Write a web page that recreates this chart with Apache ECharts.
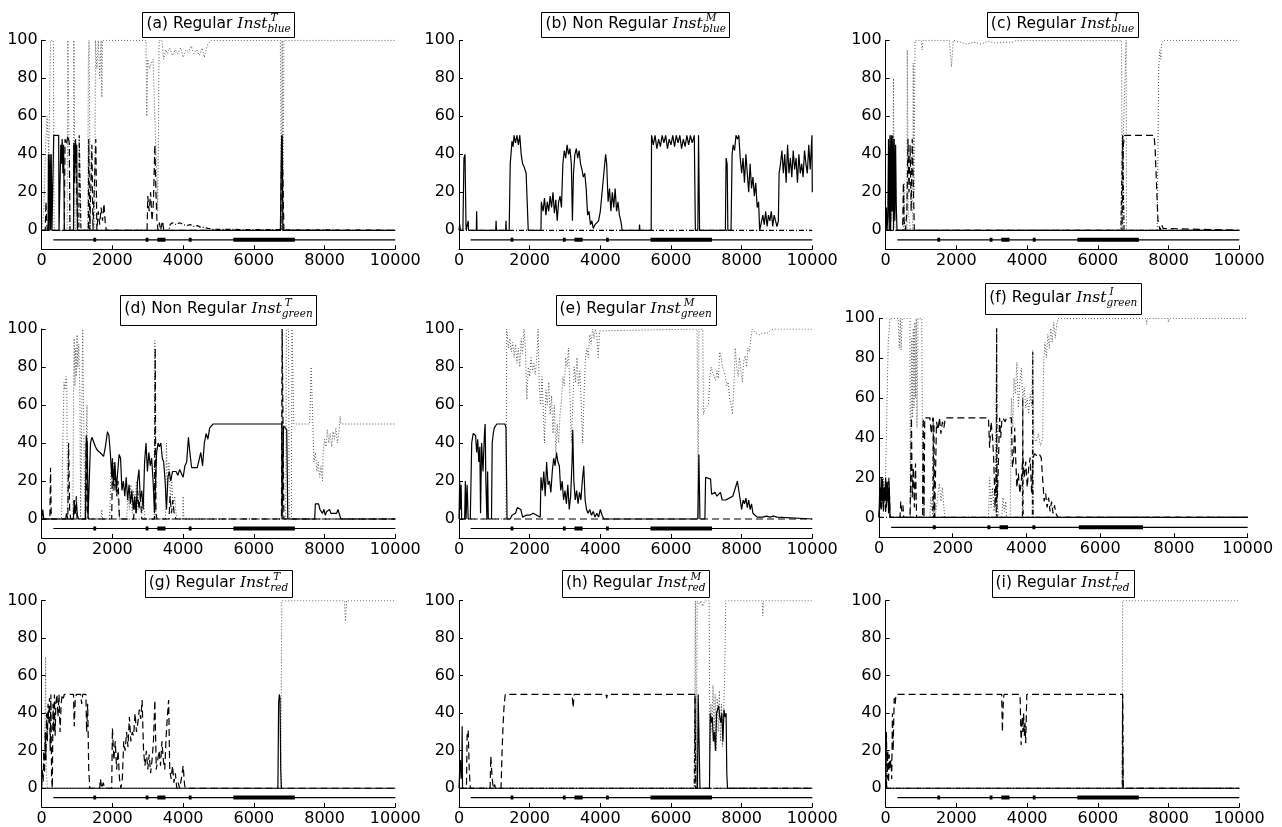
<!DOCTYPE html>
<html><head><meta charset="utf-8">
<script src="https://cdn.jsdelivr.net/npm/echarts@6/dist/echarts.min.js"></script>
<style>html,body{margin:0;padding:0;background:#fff}#c{width:1282px;height:827px}</style>
</head><body><div id="c"></div>
<script>
// ---------- tick labels ----------
const yTicks=[0,20,40,60,80,100];
const xTicks=[0,2000,4000,6000,8000,10000];
// ---------- bottom strip (same in every panel) ----------
const stripBase=[[330,-5],[10000,-5]];
const stripThick=[[1460,1540],[2940,3020],[3270,3500],[4160,4240],[5420,7160]];
// ---------- titles ----------
const titleMain=['(a) Regular ','(b) Non Regular ','(c) Regular ','(d) Non Regular ','(e) Regular ','(f) Regular ','(g) Regular ','(h) Regular ','(i) Regular '];
const titleSup=['T','M','I','T','M','I','T','M','I'];
const titleSub=['blue','blue','blue','green','green','green','red','red','red'];

// ---------- (a) ----------
const a_solid=[[0,0],[180,0],[190,40],[210,0],[230,40],[250,0],[270,40],[290,0],[330,0],[340,50],[480,50],[490,0],[530,0],[540,45],[560,35],[580,48],[600,30],[620,45],[640,0],[900,0],[910,45],[930,30],[950,47],[970,35],[990,45],[1010,0],[6750,0],[6780,45],[6800,50],[6820,0],[10000,0]];
const a_dashed=[[0,0],[100,0],[120,15],[140,5],[160,0],[640,0],[660,48],[700,45],[740,50],[780,46],[800,0],[900,0],[910,47],[930,25],[960,48],[990,20],[1020,0],[1320,0],[1330,48],[1360,0],[1400,0],[1420,45],[1450,0],[1500,0],[1530,48],[1560,0],[1600,10],[1640,3],[1680,12],[1720,5],[1760,14],[1800,3],[1830,0],[2980,0],[3000,18],[3040,10],[3080,20],[3120,5],[3160,15],[3200,45],[3230,20],[3260,5],[3290,0],[3330,4],[3360,0],[3420,5],[3450,0],[6760,0],[6790,50],[6820,30],[6850,0],[10000,0]];
const a_dotted=[[0,0],[60,10],[100,40],[150,60],[200,40],[250,100],[330,100],[350,0],[720,0],[740,100],[780,100],[800,0],[900,0],[910,100],[940,100],[950,0],[1300,0],[1320,90],[1340,100],[1380,0],[1500,0],[1520,100],[1560,85],[1600,100],[1640,80],[1680,100],[1700,70],[1720,100],[1800,100],[2600,100],[2650,99],[2700,100],[2950,100],[2970,60],[3000,90],[3050,85],[3100,88],[3150,90],[3200,60],[3250,30],[3280,10],[3300,50],[3320,100],[3400,100],[3450,90],[3500,95],[3560,93],[3620,96],[3700,92],[3780,95],[3850,93],[3930,96],[4000,91],[4080,95],[4150,94],[4230,97],[4300,93],[4380,95],[4460,92],[4540,96],[4600,91],[4650,95],[4700,98],[4800,100],[6750,100],[6780,0],[6800,100],[6820,0],[6850,100],[10000,100]];
const a_dashdot=[[0,0],[1050,0],[1060,50],[1100,50],[1110,0],[3600,0],[3630,3],[3700,4],[3800,3],[3900,4],[4000,3],[4100,2.5],[4200,3],[4300,2],[4400,2.5],[4500,1.5],[4600,1.5],[4700,1],[4850,0.5],[4860,0],[10000,0]];

// ---------- (b) ----------
const b_solid=[[0,0],[20,3],[40,0],[110,0],[140,38],[170,40],[200,0],[250,0],[260,5],[270,0],[490,0],[500,10],[510,0],[1040,0],[1050,5],[1060,0],[1320,0],[1330,5],[1340,0],[1420,0],[1450,35],[1480,42],[1500,47],[1530,44],[1560,50],[1600,46],[1640,50],[1680,45],[1720,50],[1760,40],[1800,35],[1850,33],[1900,30],[1930,15],[1960,0],[2320,0],[2330,15],[2380,10],[2420,17],[2460,8],[2500,15],[2540,10],[2580,18],[2620,12],[2660,20],[2700,9],[2740,16],[2780,5],[2820,15],[2860,18],[2900,12],[2940,35],[2980,42],[3020,38],[3060,45],[3100,40],[3140,43],[3180,35],[3210,5],[3240,30],[3280,40],[3320,43],[3360,38],[3400,42],[3440,35],[3480,32],[3520,28],[3560,30],[3600,22],[3640,8],[3680,10],[3720,3],[3760,5],[3800,1],[3850,3],[3900,2],[3950,5],[4000,10],[4050,20],[4100,30],[4150,40],[4180,35],[4220,15],[4260,22],[4300,10],[4340,20],[4380,12],[4420,22],[4460,10],[4500,15],[4540,8],[4580,5],[4620,0],[5100,0],[5110,3],[5120,0],[5440,0],[5450,50],[5500,45],[5550,50],[5600,43],[5650,48],[5700,44],[5750,50],[5800,46],[5850,50],[5900,43],[5950,48],[6000,45],[6050,50],[6100,44],[6150,50],[6200,46],[6250,50],[6300,43],[6350,48],[6400,44],[6450,50],[6500,45],[6550,50],[6600,46],[6660,50],[6690,0],[6760,0],[6780,50],[6810,0],[7540,0],[7560,38],[7590,35],[7610,0],[7700,0],[7730,40],[7760,45],[7800,42],[7840,50],[7880,48],[7920,50],[7960,38],[8000,30],[8040,38],[8080,25],[8120,40],[8160,30],[8200,20],[8240,35],[8280,22],[8320,28],[8360,18],[8400,25],[8440,12],[8480,15],[8510,0],[8560,0],[8600,8],[8640,3],[8680,10],[8720,2],[8760,8],[8800,5],[8840,10],[8880,2],[8920,8],[8960,5],[9000,2],[9040,5],[9060,30],[9100,35],[9140,42],[9180,30],[9220,40],[9260,25],[9300,45],[9340,30],[9380,38],[9420,28],[9460,42],[9500,32],[9540,38],[9580,25],[9620,40],[9660,30],[9700,35],[9740,28],[9780,42],[9820,35],[9860,30],[9900,45],[9940,32],[9990,50],[10000,20]];
const b_dashed=[];
const b_dotted=[];
const b_dashdot=[[0,0],[10000,0]];

// ---------- (c) ----------
const c_solid=[[0,0],[20,12],[40,0],[60,8],[80,48],[100,0],[120,50],[140,0],[160,50],[180,10],[200,50],[220,0],[240,48],[260,5],[280,45],[300,12],[320,0],[10000,0]];
const c_dashed=[[0,0],[480,0],[500,25],[520,5],[560,0],[600,10],[630,48],[660,20],[690,45],[720,10],[750,48],[780,25],[810,0],[6680,0],[6720,45],[6760,50],[7590,50],[7620,43],[7650,28],[7680,28],[7700,5],[7760,0],[7800,3],[7850,1],[7900,0],[10000,0]];
const c_dotted=[[0,0],[100,0],[130,15],[160,5],[200,18],[220,80],[240,10],[270,0],[500,0],[520,25],[540,0],[600,0],[610,95],[640,10],[700,0],[760,0],[780,88],[800,20],[830,100],[1000,100],[1030,95],[1060,100],[1800,100],[1860,86],[1910,100],[2300,98],[2500,99],[2700,98],[2900,99.5],[3100,98.5],[3300,99],[3600,99],[3700,100],[6670,100],[6690,0],[6720,50],[6800,100],[6810,0],[7680,0],[7720,85],[7750,95],[7780,90],[7800,98],[7850,100],[10000,100]];
const c_dashdot=[[0,0],[6650,0],[6700,50],[6740,0],[10000,0]];

// ---------- (d) ----------
const d_solid=[[0,0],[30,5],[60,0],[680,0],[700,3],[740,0],[900,0],[920,10],[950,3],[980,8],[1010,2],[1040,0],[1240,0],[1260,44],[1290,40],[1310,0],[1340,0],[1380,40],[1420,43],[1470,42],[1520,38],[1580,36],[1650,35],[1700,34],[1750,33],[1800,38],[1860,46],[1900,44],[1940,35],[1980,22],[2000,32],[2030,18],[2070,30],[2110,15],[2150,25],[2190,34],[2230,32],[2270,15],[2310,20],[2350,12],[2390,22],[2430,10],[2470,18],[2510,8],[2550,15],[2590,5],[2630,12],[2670,3],[2710,20],[2750,26],[2790,10],[2830,15],[2870,5],[2910,30],[2950,40],[2990,25],[3030,35],[3070,28],[3110,32],[3150,20],[3190,3],[3220,2],[3250,35],[3290,40],[3330,38],[3370,40],[3410,32],[3450,30],[3490,20],[3530,5],[3570,22],[3610,25],[3650,20],[3700,25],[3750,24],[3800,25],[3850,23],[3900,26],[3950,25],[4000,22],[4050,28],[4100,30],[4150,43],[4190,35],[4240,27],[4300,27],[4350,26],[4400,27],[4450,28],[4500,35],[4550,28],[4600,40],[4650,45],[4700,42],[4750,48],[4800,49],[4850,50],[6790,50],[6800,0],[6820,0],[6840,49],[6880,48],[6930,47],[6960,0],[7720,0],[7740,8],[7830,8],[7870,5],[7900,6],[7940,3],[7980,5],[8020,2],[8060,4],[8100,3],[8140,5],[8180,3],[8220,4],[8260,3],[8300,4],[8340,3],[8380,5],[8420,4],[8460,0],[10000,0]];
const d_dashed=[[0,0],[230,0],[250,27],[270,0],[740,0],[760,40],[790,5],[820,0],[900,0],[920,10],[950,2],[980,12],[1000,0],[1240,0],[1260,40],[1290,5],[1330,0],[1980,0],[2000,30],[2040,15],[2080,25],[2120,12],[2160,20],[2200,0],[2600,0],[2630,10],[2670,3],[2710,15],[2750,5],[2790,12],[2830,0],[3190,0],[3210,90],[3230,3],[3260,0],[3600,0],[3630,12],[3670,3],[3710,10],[3750,2],[3800,0],[6780,0],[6800,100],[6830,100],[6850,0],[10000,0]];
const d_dotted=[[0,0],[560,0],[600,40],[630,72],[660,68],[690,75],[710,70],[730,0],[880,0],[900,65],[920,95],[940,70],[960,90],[980,75],[1000,97],[1020,80],[1050,92],[1080,65],[1100,0],[1140,0],[1160,100],[1200,100],[1220,0],[1260,0],[1280,60],[1310,0],[1680,0],[1700,5],[1720,0],[1920,0],[1960,25],[2000,15],[2040,30],[2080,18],[2120,22],[2160,10],[2200,0],[2400,0],[2440,12],[2480,5],[2520,18],[2560,3],[2600,15],[2640,8],[2680,20],[2720,5],[2760,15],[2800,10],[2840,3],[2880,12],[2920,0],[3180,0],[3200,94],[3230,0],[3500,0],[3530,40],[3560,15],[3600,30],[3640,10],[3680,20],[3720,5],[3760,12],[3800,3],[3840,0],[3990,0],[4000,12],[4020,0],[6780,0],[6800,100],[6830,0],[6900,0],[6920,100],[6980,100],[7000,0],[7060,0],[7080,100],[7110,100],[7130,50],[7580,50],[7620,80],[7660,80],[7700,30],[7740,35],[7780,25],[7820,30],[7860,22],[7900,28],[7940,20],[7960,35],[8000,42],[8040,38],[8080,47],[8120,40],[8160,45],[8200,38],[8240,46],[8280,42],[8320,48],[8360,40],[8400,45],[8440,54],[8460,50],[10000,50]];
const d_dashdot=[[0,0],[10000,0]];

// ---------- (e) ----------
const e_solid=[[0,0],[20,20],[40,5],[60,18],[75,0],[160,0],[180,20],[200,0],[230,18],[260,0],[320,0],[360,40],[400,45],[470,44],[500,35],[530,42],[560,30],[590,38],[610,3],[640,40],[680,25],[720,45],[740,50],[760,20],[790,0],[810,25],[830,0],[920,0],[940,40],[970,45],[1000,48],[1040,47],[1070,50],[1300,50],[1330,48],[1360,0],[1450,0],[1500,2],[1550,1],[1600,3],[1650,6],[1700,7],[1750,5],[1800,1],[1900,2],[2000,2],[2100,3],[2200,2],[2300,1],[2320,22],[2360,15],[2400,25],[2440,12],[2480,30],[2520,18],[2560,20],[2600,14],[2640,25],[2680,32],[2720,28],[2760,35],[2800,30],[2840,28],[2880,15],[2920,20],[2960,10],[3000,15],[3040,8],[3080,18],[3120,5],[3160,12],[3200,30],[3220,47],[3250,20],[3290,10],[3330,15],[3370,8],[3410,14],[3450,10],[3490,20],[3530,28],[3570,10],[3610,5],[3650,3],[3700,5],[3750,2],[3800,4],[3850,1],[3900,3],[3950,1],[4000,5],[4050,2],[4100,0],[6760,0],[6790,34],[6820,0],[6960,0],[6980,22],[7120,21],[7150,13],[7200,12],[7250,14],[7300,12],[7350,13],[7400,14],[7450,10],[7500,9],[7550,10],[7600,9],[7650,11],[7700,10],[7750,12],[7800,15],[7850,18],[7880,20],[7920,15],[7960,10],[8000,5],[8040,10],[8080,8],[8120,11],[8160,6],[8200,10],[8240,5],[8280,8],[8320,3],[8380,2],[8440,1],[8500,1],[8600,1],[8700,1.5],[8800,1],[8900,1.5],[9000,1],[9040,0],[10000,0]];
const e_dashed=[[0,0],[10000,0]];
const e_dotted=[[0,0],[1330,0],[1350,100],[1400,90],[1440,95],[1480,88],[1520,93],[1560,85],[1600,92],[1640,82],[1680,90],[1720,80],[1760,95],[1800,87],[1840,100],[1880,90],[1920,63],[1960,80],[2000,75],[2040,85],[2080,78],[2120,82],[2160,76],[2200,85],[2240,100],[2270,70],[2310,60],[2350,75],[2390,55],[2420,40],[2460,68],[2500,60],[2540,72],[2580,55],[2620,65],[2660,45],[2700,60],[2740,35],[2780,50],[2820,40],[2860,55],[2900,62],[2940,75],[2980,70],[3020,85],[3060,80],[3100,90],[3140,65],[3180,40],[3220,60],[3260,80],[3300,72],[3340,85],[3380,70],[3420,78],[3460,60],[3500,40],[3540,65],[3580,85],[3620,90],[3660,85],[3700,97],[3740,92],[3780,100],[3820,95],[3860,100],[3900,97],[3940,85],[3980,99],[4020,100],[6740,100],[6770,0],[6790,100],[6900,100],[6920,55],[6960,58],[7000,57],[7060,60],[7100,75],[7140,80],[7180,77],[7220,75],[7260,73],[7300,78],[7340,74],[7380,88],[7420,85],[7460,80],[7500,78],[7540,75],[7580,70],[7620,72],[7660,63],[7700,60],[7740,55],[7780,70],[7820,90],[7860,80],[7900,75],[7940,85],[7980,78],[8020,72],[8060,83],[8100,86],[8140,80],[8180,90],[8220,88],[8260,95],[8300,100],[8340,99],[8400,98],[8500,97],[8600,98],[8700,97.5],[8800,99],[8900,100],[10000,100]];
const e_dashdot=[];

// ---------- (f) ----------
const f_solid=[[0,0],[20,15],[40,5],[60,20],[80,8],[100,18],[120,3],[140,15],[160,10],[180,20],[200,5],[220,12],[240,18],[260,2],[280,15],[300,0],[10000,0]];
const f_dashed=[[0,0],[30,12],[60,3],[90,20],[120,5],[150,15],[180,2],[210,18],[240,8],[270,20],[300,0],[570,0],[590,8],[620,3],[650,6],[670,0],[840,0],[860,20],[880,50],[900,10],[930,25],[960,5],[990,27],[1020,0],[1180,0],[1200,50],[1220,0],[1240,50],[1380,50],[1420,42],[1460,50],[1490,46],[1510,0],[1540,0],[1560,48],[1600,44],[1640,50],[1680,42],[1720,48],[1760,45],[1800,50],[2970,50],[3000,35],[3040,48],[3080,40],[3110,30],[3150,5],[3180,25],[3210,10],[3240,28],[3270,50],[3300,40],[3330,48],[3360,50],[3420,48],[3460,50],[3590,50],[3620,25],[3650,30],[3680,45],[3710,28],[3740,15],[3780,22],[3820,12],[3860,18],[3900,30],[3940,20],[3980,28],[4020,15],[4060,25],[4100,30],[4140,12],[4180,30],[4220,32],[4280,31],[4340,32],[4400,30],[4450,31],[4480,8],[4520,12],[4560,5],[4600,10],[4640,3],[4680,8],[4720,2],[4760,6],[4800,2],[4850,0],[7240,0],[7260,1],[7280,0],[10000,0]];
const f_dotted=[[0,0],[40,15],[80,5],[120,20],[160,8],[200,40],[230,70],[250,88],[300,100],[520,100],[550,85],[580,100],[600,84],[630,100],[660,100],[840,100],[850,0],[880,0],[890,90],[910,50],[930,95],[950,55],[970,98],[990,60],[1010,100],[1030,45],[1060,100],[1160,100],[1190,0],[1380,0],[1400,10],[1440,3],[1480,8],[1520,0],[1560,5],[1600,12],[1640,17],[1680,8],[1720,15],[1760,5],[1790,0],[2970,0],[3000,20],[3040,5],[3080,15],[3120,3],[3160,12],[3190,95],[3220,5],[3260,0],[3330,0],[3360,10],[3400,3],[3440,8],[3460,0],[3560,0],[3590,60],[3630,45],[3660,70],[3700,62],[3740,78],[3780,55],[3820,68],[3860,75],[3900,60],[3940,65],[3980,55],[4020,60],[4060,52],[4100,62],[4140,56],[4170,84],[4200,40],[4260,38],[4320,42],[4380,36],[4440,40],[4460,75],[4500,88],[4540,80],[4580,92],[4620,85],[4660,95],[4700,88],[4740,98],[4780,90],[4820,97],[4860,100],[7240,100],[7260,97],[7280,100],[7830,100],[7850,98],[7870,100],[10000,100]];
const f_dashdot=[[0,0],[1460,0],[1470,50],[1490,0],[3180,0],[3190,95],[3200,0],[3890,0],[3900,60],[3910,0],[4160,0],[4170,83],[4180,0],[10000,0]];

// ---------- (g) ----------
const g_solid=[[0,0],[6680,0],[6700,45],[6720,50],[6740,48],[6760,10],[6780,0],[10000,0]];
const g_dashed=[[0,0],[20,10],[40,3],[60,20],[80,8],[100,30],[120,15],[140,40],[160,25],[180,45],[200,35],[220,48],[240,20],[260,50],[280,5],[300,0],[320,45],[340,30],[360,50],[380,28],[400,45],[430,50],[460,38],[490,50],[520,30],[550,45],[580,50],[610,48],[640,50],[900,50],[920,33],[950,48],[980,50],[1100,50],[1130,45],[1160,50],[1250,50],[1270,30],[1300,45],[1330,10],[1360,0],[1640,0],[1660,5],[1700,0],[1740,3],[1780,0],[1980,0],[2000,32],[2040,15],[2080,25],[2120,10],[2160,20],[2200,5],[2240,0],[2280,5],[2320,25],[2360,20],[2400,30],[2440,22],[2480,38],[2520,25],[2560,30],[2600,28],[2640,40],[2680,30],[2720,35],[2760,42],[2800,37],[2840,47],[2880,20],[2920,12],[2960,20],[3000,10],[3040,18],[3080,8],[3120,15],[3160,25],[3200,47],[3240,10],[3280,15],[3320,20],[3360,12],[3400,25],[3440,15],[3480,10],[3520,28],[3560,40],[3590,47],[3620,10],[3660,5],[3700,12],[3740,3],[3780,8],[3820,0],[3860,3],[3900,0],[3950,5],[4000,12],[4040,2],[4060,0],[10000,0]];
const g_dotted=[[0,0],[40,10],[80,20],[100,45],[110,70],[130,10],[160,0],[6760,0],[6790,100],[8560,100],[8590,89],[8620,100],[10000,100]];
const g_dashdot=[];

// ---------- (h) ----------
const h_solid=[[0,0],[20,10],[40,15],[60,5],[80,14],[90,33],[100,0],[6750,0],[6770,50],[6800,50],[6820,0],[7090,0],[7110,40],[7140,35],[7170,38],[7200,25],[7230,30],[7260,20],[7290,40],[7320,42],[7350,44],[7380,38],[7410,35],[7440,40],[7470,25],[7500,42],[7530,38],[7560,40],[7580,8],[7600,0],[10000,0]];
const h_dashed=[[0,0],[210,0],[230,28],[260,31],[290,10],[320,0],[880,0],[900,17],[940,5],[970,0],[1010,2],[1030,0],[1190,0],[1220,20],[1250,35],[1280,45],[1310,50],[3200,50],[3230,43],[3260,50],[4160,50],[4180,48],[4200,50],[6680,50],[6700,0],[10000,0]];
const h_dotted=[[0,0],[6660,0],[6690,100],[6720,0],[6740,100],[6800,98],[6850,100],[6900,97],[6950,100],[7080,100],[7100,20],[7130,45],[7160,30],[7190,55],[7220,25],[7250,50],[7280,20],[7310,48],[7340,30],[7370,52],[7400,25],[7430,45],[7460,22],[7490,40],[7520,60],[7550,100],[8580,100],[8600,92],[8620,100],[10000,100]];
const h_dashdot=[[0,0],[6660,0],[6680,50],[6700,0],[10000,0]];

// ---------- (i) ----------
const i_solid=[[0,0],[10,5],[30,0],[10000,0]];
const i_dashed=[[0,0],[20,30],[40,5],[60,20],[80,3],[100,18],[120,10],[150,15],[170,5],[190,40],[210,20],[240,48],[270,45],[290,50],[3280,50],[3300,30],[3330,48],[3350,50],[3800,50],[3830,23],[3860,38],[3880,30],[3900,40],[3920,28],[3940,35],[3960,24],[3990,50],[4960,50],[4980,49],[5000,50],[6700,50],[6720,0],[10000,0]];
const i_dotted=[[0,0],[20,20],[40,0],[6690,0],[6700,100],[10000,100]];
const i_dashdot=[[0,0],[6690,0],[6700,50],[6710,0],[10000,0]];

const panelData=[
 [a_solid,a_dashed,a_dotted,a_dashdot],
 [b_solid,b_dashed,b_dotted,b_dashdot],
 [c_solid,c_dashed,c_dotted,c_dashdot],
 [d_solid,d_dashed,d_dotted,d_dashdot],
 [e_solid,e_dashed,e_dotted,e_dashdot],
 [f_solid,f_dashed,f_dotted,f_dashdot],
 [g_solid,g_dashed,g_dotted,g_dashdot],
 [h_solid,h_dashed,h_dotted,h_dashdot],
 [i_solid,i_dashed,i_dotted,i_dashdot]
];

// ---------- layout ----------
const layout=[
 {l:41.7,t:40.3,w:353.6,h:209,bh:24.5,tm:12.6},
 {l:459,t:40.3,w:353.3,h:209,bh:24.5,tm:12.6},
 {l:885.7,t:40.3,w:353.6,h:209,bh:24.5,tm:12.6},
 {l:41.7,t:329,w:353.6,h:209,bh:30,tm:14},
 {l:459,t:329,w:353.3,h:209,bh:30,tm:14},
 {l:879,t:318.3,w:368.7,h:219,bh:31,tm:14.5},
 {l:41.7,t:600.7,w:353.6,h:209,bh:26.5,tm:13.2},
 {l:459,t:600.7,w:353.3,h:209,bh:26.5,tm:13.2},
 {l:885.7,t:600.7,w:353.6,h:209,bh:26.5,tm:13.2}
];

const FONT_MAIN='15.5px "DejaVu Sans"';
const FONT_MATH='italic 15.5px "DejaVu Serif"';
const FONT_SMALL='italic 10.5px "DejaVu Serif"';
const cv=document.createElement('canvas').getContext('2d');
function tw(font,s){cv.font=font;return cv.measureText(s).width;}

const grids=[],xAxes=[],yAxes=[],series=[],graphics=[];
const styles=[
 {idx:2,color:'#555',type:[1,2],width:1},     // dotted
 {idx:3,color:'#000',type:[5,2,1,2],width:1.2}, // dash-dot
 {idx:1,color:'#000',type:[7,4],width:1.2},   // dashed
 {idx:0,color:'#000',type:'solid',width:1.2}  // solid
];
const thickData=[];
stripThick.forEach(s=>{thickData.push([s[0],-5],[s[1],-5],[s[1]+1,'-']);});

layout.forEach((L,i)=>{
  grids.push({left:L.l,top:L.t,width:L.w,height:L.h,containLabel:false});
  xAxes.push({type:'value',gridIndex:i,min:0,max:10000,interval:2000,
    axisLine:{show:true,onZero:false,lineStyle:{color:'#000',width:1}},
    axisTick:{show:true,inside:true,length:4,lineStyle:{color:'#000'}},
    axisLabel:{color:'#000',fontSize:16,fontFamily:'DejaVu Sans',margin:4,customValues:xTicks,formatter:v=>String(v)},
    splitLine:{show:false}});
  yAxes.push({type:'value',gridIndex:i,min:-10,max:100,
    axisLine:{show:true,onZero:false,lineStyle:{color:'#000',width:1}},
    axisTick:{show:true,inside:true,length:4,lineStyle:{color:'#000'},customValues:yTicks},
    axisLabel:{color:'#000',fontSize:16,fontFamily:'DejaVu Sans',margin:4,customValues:yTicks,formatter:v=>String(v)},
    splitLine:{show:false}});
  styles.forEach(st=>{
    const d=panelData[i][st.idx];
    if(!d.length) return;
    series.push({type:'line',xAxisIndex:i,yAxisIndex:i,data:d,showSymbol:false,symbol:'none',
      silent:true,animation:false,clip:true,
      lineStyle:{color:st.color,width:st.width,type:st.type}});
  });
  series.push({type:'line',xAxisIndex:i,yAxisIndex:i,data:stripBase,symbol:'none',silent:true,animation:false,
    lineStyle:{color:'#000',width:1.2}});
  series.push({type:'line',xAxisIndex:i,yAxisIndex:i,data:thickData,symbol:'none',silent:true,animation:false,connectNulls:false,
    lineStyle:{color:'#000',width:4,cap:'butt'}});

  // title box
  const m=titleMain[i],sup=titleSup[i],sub=titleSub[i];
  const wm=tw(FONT_MAIN,m),wi=tw(FONT_MATH,'Inst'),ws=Math.max(tw(FONT_SMALL,sup)+3,tw(FONT_SMALL,sub));
  const pad=4;
  const W=wm+wi+ws+2*pad;
  const cx=L.l+L.w/2;
  const bx=cx-W/2, by=L.t-4.3-L.bh;
  const mid=by+L.tm;
  graphics.push({type:'rect',shape:{x:Math.round(bx)+0.5,y:Math.round(by)+0.5,width:Math.round(W),height:Math.round(L.bh)},
    style:{fill:'#fff',stroke:'#000',lineWidth:1},z:100});
  graphics.push({type:'text',x:bx+pad,y:mid,z:101,style:{text:m,font:FONT_MAIN,fill:'#000',textAlign:'left',textVerticalAlign:'middle',align:'left',verticalAlign:'middle'}});
  graphics.push({type:'text',x:bx+pad+wm,y:mid,z:101,style:{text:'Inst',font:FONT_MATH,fill:'#000',textAlign:'left',textVerticalAlign:'middle',align:'left',verticalAlign:'middle'}});
  graphics.push({type:'text',x:bx+pad+wm+wi+3,y:mid-5.5,z:101,style:{text:sup,font:FONT_SMALL,fill:'#000',textAlign:'left',textVerticalAlign:'middle',align:'left',verticalAlign:'middle'}});
  graphics.push({type:'text',x:bx+pad+wm+wi,y:mid+5.5,z:101,style:{text:sub,font:FONT_SMALL,fill:'#000',textAlign:'left',textVerticalAlign:'middle',align:'left',verticalAlign:'middle'}});
});

const chart=echarts.init(document.getElementById('c'),null,{renderer:'canvas'});
chart.setOption({animation:false,backgroundColor:'#fff',grid:grids,xAxis:xAxes,yAxis:yAxes,series:series,graphic:graphics});
</script></body></html>
